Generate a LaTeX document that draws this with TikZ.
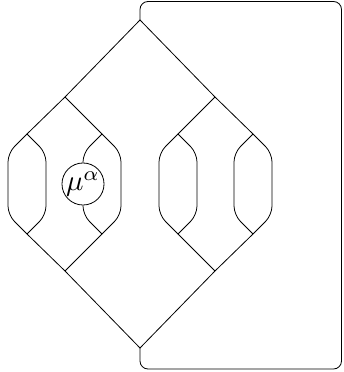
\documentclass[tikz,border=0pt]{standalone}
\usetikzlibrary{calc}
\begin{document}
\begin{tikzpicture}[x=1pt,y=1pt,line width=0.8pt,
  lens/.style={draw,line width=0.8pt,rounded corners=9pt},
  morph/.style={draw,circle,line width=0.8pt,inner sep=0pt,minimum size=38.5pt}]
\useasboundingbox (0,0) rectangle (343,372);
% vertices
\coordinate (T) at (140,352);
\coordinate (B) at (140,24);
\coordinate (L1) at (65,275);
\coordinate (R1) at (215,275);
\coordinate (L2) at (65,101);
\coordinate (R2) at (215,101);
\coordinate (a1) at (27,238);  \coordinate (a2) at (27,138);
\coordinate (b1) at (102,238); \coordinate (b2) at (102,138);
\coordinate (c1) at (178,238); \coordinate (c2) at (178,138);
\coordinate (d1) at (253,238); \coordinate (d2) at (253,138);
% frame corners
\coordinate (f1) at (140,370.5);
\coordinate (f2) at (341.5,370.5);
\coordinate (f3) at (341.5,3);
\coordinate (f4) at (140,3);
% morphism
\node[morph] (mu) at (83,188) {\scalebox{2.9}{$\mu^\alpha$}};
% frame
\draw[rounded corners=8pt] (T) -- (f1) -- (f2) -- (f3) -- (f4) -- (B);
% tree structure
\draw (a1) -- (L1) -- (T) -- (R1) -- (d1);
\draw (L1) -- (b1);
\draw (R1) -- (c1);
\draw (a2) -- (L2) -- (B) -- (R2) -- (d2);
\draw (L2) -- (b2);
\draw (R2) -- (c2);
% lenses
\foreach \v/\w in {a1/a2,c1/c2,d1/d2}{
  \path[lens] (\v) -- ++(-19,-19) -- ($(\w)+(-19,19)$) -- (\w);
}
\foreach \v/\w in {a1/a2,b1/b2,c1/c2,d1/d2}{
  \path[lens] (\v) -- ++(19,-19) -- ($(\w)+(19,19)$) -- (\w);
}
\path[lens] (b1) -- ++(-19,-19) -- (mu.north);
\path[lens] (mu.south) -- ($(b2)+(-19,19)$) -- (b2);
\end{tikzpicture}
\end{document}
